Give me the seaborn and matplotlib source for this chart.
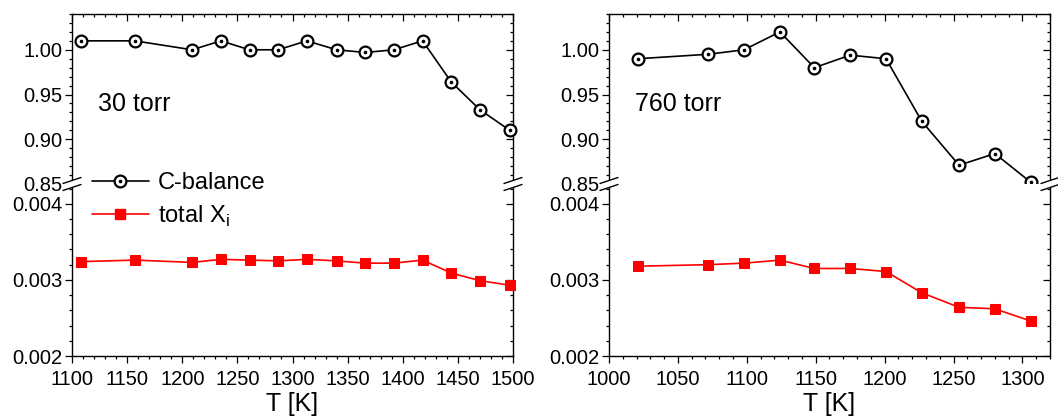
import matplotlib
matplotlib.use('Agg')
import matplotlib.pyplot as plt
from matplotlib.ticker import MultipleLocator, FormatStrFormatter
from matplotlib.lines import Line2D
from matplotlib.patches import Polygon
import seaborn as sns

# ── data ──────────────────────────────────────────────────────
# 30 torr
T_30 = [1108, 1157, 1209, 1235, 1261, 1287, 1313, 1340, 1366, 1392, 1418, 1444, 1470, 1497]
cbal_30 = [1.010, 1.010, 1.000, 1.010, 1.000, 1.000, 1.010, 1.000, 0.997, 1.000, 1.010, 0.964, 0.933, 0.910]
xi_30 = [0.00324, 0.00326, 0.00323, 0.00327, 0.00326, 0.00325, 0.00327, 0.00325, 0.00322, 0.00322,
         0.00326, 0.00309, 0.00299, 0.00293]

# 760 torr
T_760 = [1021, 1072, 1098, 1124, 1149, 1175, 1201, 1227, 1254, 1280, 1306]
cbal_760 = [0.990, 0.995, 1.000, 1.020, 0.980, 0.994, 0.990, 0.920, 0.871, 0.884, 0.852]
xi_760 = [0.00318, 0.00320, 0.00322, 0.00326, 0.00315, 0.00315, 0.00311, 0.00283, 0.00264, 0.00262, 0.00246]

panels = [
    dict(T=T_30, cbal=cbal_30, xi=xi_30, label='30 torr', xlim=(1100, 1500)),
    dict(T=T_760, cbal=cbal_760, xi=xi_760, label='760 torr', xlim=(1000, 1320)),
]

sns.set_theme(style='ticks')
plt.rcParams['font.family'] = ['Liberation Sans', 'DejaVu Sans']
plt.rcParams['mathtext.fontset'] = 'custom'
plt.rcParams['mathtext.rm'] = 'Liberation Sans'
plt.rcParams['axes.linewidth'] = 1.0
plt.rcParams['axes.edgecolor'] = 'black'
plt.rcParams['text.color'] = 'black'
plt.rcParams['axes.labelcolor'] = 'black'
plt.rcParams['xtick.color'] = 'black'
plt.rcParams['ytick.color'] = 'black'

W, H = 1058, 417
fig = plt.figure(figsize=(W / 100, H / 100), dpi=100)

# pixel layout
left_px = [72, 609]
width_px = 441
top_px, brk_px, bot_px = 14, 184, 356


def fx(px):
    return px / W


def fy(py):
    return 1 - py / H


FS = 14.5
RED = '#ff0000'


def style_ticks(ax, direction, **kw):
    ax.tick_params(which='major', direction=direction, length=5, width=0.9, colors='black', labelsize=FS, **kw)
    ax.tick_params(which='minor', direction=direction, length=2.5, width=0.9, colors='black', **kw)


def break_marks(xpx):
    # two parallel slashes crossing the spine at the axis break
    dx, rise, gap = 9, 3, 7
    y0 = brk_px
    ya, yb = y0 - gap / 2, y0 + gap / 2
    poly = Polygon([(fx(xpx - dx), fy(ya + rise)), (fx(xpx + dx), fy(ya - rise)),
                    (fx(xpx + dx), fy(yb - rise)), (fx(xpx - dx), fy(yb + rise))],
                   closed=True, transform=fig.transFigure, facecolor='white', edgecolor='none', zorder=20)
    fig.add_artist(poly)
    for yc in (ya, yb):
        fig.add_artist(Line2D([fx(xpx - dx), fx(xpx + dx)], [fy(yc + rise), fy(yc - rise)],
                              transform=fig.transFigure, color='black', lw=1.0, zorder=21))


handles = None
for i, p in enumerate(panels):
    ax_t = fig.add_axes([fx(left_px[i]), fy(brk_px), fx(width_px), fy(top_px) - fy(brk_px)])
    ax_b = fig.add_axes([fx(left_px[i]), fy(bot_px), fx(width_px), fy(brk_px) - fy(bot_px)])

    # C-balance: open circle with a dot in the middle
    sns.lineplot(x=p['T'], y=p['cbal'], ax=ax_t, color='black', lw=1.2, marker='o', markersize=8.5,
                 markerfacecolor='white', markeredgecolor='black', markeredgewidth=1.6, clip_on=False,
                 zorder=5)
    ax_t.plot(p['T'], p['cbal'], ls='none', marker='o', markersize=1.6, color='black', clip_on=False, zorder=6)

    # total X_i: red squares
    sns.lineplot(x=p['T'], y=p['xi'], ax=ax_b, color=RED, lw=1.2, marker='s', markersize=7,
                 markeredgecolor=RED, markerfacecolor=RED, clip_on=False, zorder=5)

    for ax in (ax_t, ax_b):
        ax.set_xlim(*p['xlim'])
        ax.xaxis.set_major_locator(MultipleLocator(50))
        ax.xaxis.set_minor_locator(MultipleLocator(10))
        ax.set_facecolor('white')

    ax_t.set_ylim(0.85, 1.04)
    ax_t.yaxis.set_major_locator(MultipleLocator(0.05))
    ax_t.yaxis.set_minor_locator(MultipleLocator(0.01))
    ax_t.yaxis.set_major_formatter(FormatStrFormatter('%.2f'))

    ax_b.set_ylim(0.002, 0.00426)
    ax_b.yaxis.set_major_locator(MultipleLocator(0.001))
    ax_b.yaxis.set_minor_locator(MultipleLocator(0.0002))
    ax_b.yaxis.set_major_formatter(FormatStrFormatter('%.3f'))

    # top panel: left ticks out, no bottom spine/ticks
    ax_t.spines['bottom'].set_visible(False)
    ax_t.spines['right'].set_visible(False)
    ax_t.spines['top'].set_visible(False)
    style_ticks(ax_t, 'out', left=True, right=False, top=False, bottom=False, labelbottom=False)
    ax_t.yaxis.set_tick_params(pad=2)

    # bottom panel: left/bottom ticks out
    ax_b.spines['top'].set_visible(False)
    ax_b.spines['right'].set_visible(False)
    style_ticks(ax_b, 'out', left=True, right=False, top=False, bottom=True)
    ax_b.yaxis.set_tick_params(pad=2)
    ax_b.xaxis.set_tick_params(pad=5)
    ax_b.set_xlabel('T [K]', fontsize=18, labelpad=2)

    # right/top sides: inward ticks without labels
    for ax in (ax_t, ax_b):
        sec = ax.secondary_yaxis('right')
        sec.yaxis.set_major_locator(ax.yaxis.get_major_locator())
        sec.yaxis.set_minor_locator(ax.yaxis.get_minor_locator())
        style_ticks(sec, 'in', labelright=False)
        sec.spines['right'].set_linewidth(1.0)
    sec_x = ax_t.secondary_xaxis('top')
    sec_x.xaxis.set_major_locator(MultipleLocator(50))
    sec_x.xaxis.set_minor_locator(MultipleLocator(10))
    style_ticks(sec_x, 'in', labeltop=False)

    ax_t.text(0.06, 0.47, p['label'], transform=ax_t.transAxes, fontsize=18, va='center', ha='left')

    break_marks(left_px[i])
    break_marks(left_px[i] + width_px)

    if i == 0:
        ln_c = Line2D([], [], color='black', lw=1.2, marker='o', markersize=8.5, markerfacecolor='white',
                      markeredgecolor='black', markeredgewidth=1.6)
        ln_d = Line2D([], [], ls='none', marker='o', markersize=1.6, color='black')
        ln_x = Line2D([], [], color=RED, lw=1.2, marker='s', markersize=7, markerfacecolor=RED,
                      markeredgecolor=RED)
        handles = [(ln_c, ln_d), ln_x]

fig.legend(handles, ['C-balance', 'total X$_\\mathregular{i}$'], loc='upper left',
           bbox_to_anchor=(fx(92), fy(172)), frameon=False, fontsize=17, handlelength=2.4,
           handletextpad=0.4, labelspacing=0.4, borderpad=0, borderaxespad=0)

fig.savefig('out.png', dpi=100, facecolor='white')
